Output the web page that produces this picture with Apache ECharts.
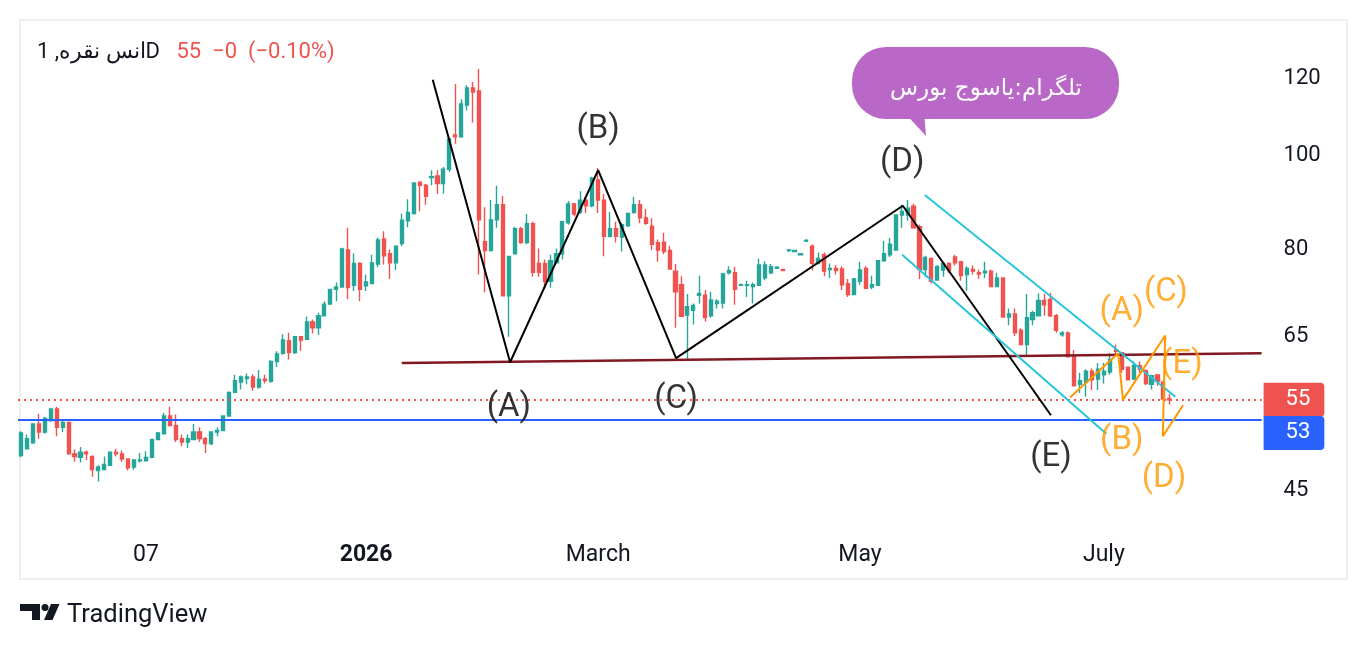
<!DOCTYPE html>
<html lang="en">
<head>
    <meta charset="utf-8">
    <script src="https://cdn.jsdelivr.net/npm/echarts@6/dist/echarts.min.js"></script>
    <title></title>
    <style>html, body { margin: 0; background: #fff; }</style>
</head>
<body>
<div id="main" style="width: 1368px;height:650px;"></div>
<script type="text/javascript">
    // daily bars (log price scale)
    var open = [
        48.6, 49.4, 50.1, 52.4, 51.4, 52.8, 54.3, 52.0, 52.6, 48.8,
        48.4, 49.0, 48.5, 46.9, 47.0, 47.5, 49.0, 48.8, 48.2, 47.3,
        48.0, 48.0, 48.4, 50.5, 51.2, 53.4, 52.2, 50.6, 50.2, 50.5,
        51.4, 50.6, 50.0, 51.4, 51.6, 53.4, 56.5, 57.9, 58.4, 58.6,
        57.2, 58.3, 58.0, 60.8, 62.0, 63.9, 62.1, 64.5, 64.1, 66.8,
        65.9, 67.8, 69.7, 72.2, 72.6, 79.3, 72.9, 76.8, 72.8, 73.2,
        76.7, 81.4, 78.6, 76.9, 80.5, 85.0, 86.5, 93.2, 92.5, 94.2,
        94.6, 92.9, 96.1, 104.3, 103.8, 112.0, 116.6, 115.8, 80.9, 79.2,
        85.2, 88.3, 71.1, 78.6, 83.4, 80.7, 84.4, 76.8, 76.8, 73.6,
        76.9, 78.6, 84.6, 88.5, 86.8, 89.3, 88.1, 93.7, 89.3, 81.9,
        83.4, 81.8, 84.0, 86.7, 88.3, 85.6, 83.9, 80.7, 80.8, 79.2,
        75.4, 73.0, 67.9, 68.7, 71.2, 71.2, 67.8, 69.8, 69.9, 75.1,
        75.1, 72.9, 72.9, 72.7, 72.9, 74.2, 75.1, 75.9, 75.7, 79.2,
        79.0, 78.4, 81.0, 80.0, 76.8, 78.4, 75.7, 75.9, 75.8, 73.2,
        71.3, 73.6, 75.9, 72.6, 72.9, 77.3, 78.4, 79.3, 86.2, 86.2,
        88.0, 83.8, 75.7, 77.7, 73.8, 75.6, 76.8, 78.0, 77.1, 74.8,
        75.7, 75.1, 75.1, 75.4, 72.7, 74.2, 67.6, 68.1, 65.5, 63.3,
        67.2, 67.8, 70.3, 70.5, 67.8, 64.8, 65.1, 61.7, 57.6, 57.9,
        59.4, 58.3, 58.9, 59.3, 62.5, 62.1, 60.0, 58.3, 60.2, 59.5,
        57.6, 58.9, 57.9, 55.7
    ];
    var high = [
        51.5, 51.1, 52.4, 53.7, 53.3, 54.4, 54.6, 52.9, 52.7, 49.3,
        49.6, 49.2, 48.6, 47.5, 48.5, 49.1, 49.4, 49.2, 48.3, 48.2,
        48.9, 49.1, 50.6, 51.4, 53.8, 54.6, 53.6, 51.1, 51.1, 52.4,
        52.0, 50.8, 51.5, 52.0, 53.5, 56.6, 58.9, 58.8, 59.1, 59.0,
        59.6, 58.9, 61.0, 62.3, 64.9, 65.1, 64.6, 64.6, 67.7, 67.2,
        68.3, 70.2, 72.3, 73.4, 79.7, 83.6, 78.7, 77.0, 74.8, 78.4,
        81.7, 82.9, 79.4, 80.2, 86.5, 89.5, 93.2, 93.4, 92.8, 95.9,
        95.9, 96.6, 103.5, 117.7, 113.5, 117.4, 118.3, 122.0, 87.8, 89.3,
        92.4, 90.2, 78.2, 83.8, 83.8, 86.4, 84.8, 79.6, 77.5, 78.4,
        79.6, 85.0, 89.1, 88.7, 91.2, 90.2, 94.4, 96.4, 90.6, 86.8,
        84.8, 84.6, 86.7, 90.0, 89.3, 87.4, 85.5, 81.3, 82.6, 80.1,
        76.7, 74.5, 71.4, 69.8, 74.6, 72.1, 71.8, 70.5, 75.1, 76.3,
        76.2, 73.2, 73.7, 73.4, 77.7, 77.2, 76.7, 76.3, 75.8, 79.5,
        79.3, 78.7, 81.4, 80.4, 78.8, 78.8, 76.8, 76.5, 76.3, 74.0,
        74.2, 77.1, 76.3, 74.6, 77.4, 81.0, 81.6, 86.3, 88.3, 89.3,
        88.5, 84.2, 78.2, 77.9, 76.5, 77.1, 77.0, 78.4, 77.3, 76.3,
        76.4, 75.7, 77.1, 75.7, 75.1, 74.3, 69.0, 69.0, 65.8, 71.4,
        68.6, 71.5, 71.4, 71.6, 68.1, 65.4, 65.3, 62.5, 59.2, 59.7,
        59.8, 60.6, 60.6, 62.0, 63.3, 62.2, 60.1, 60.8, 60.8, 59.7,
        58.9, 58.9, 58.0, 56.3
    ];
    var low = [
        48.4, 49.3, 50.0, 50.6, 51.2, 52.7, 50.9, 51.4, 48.7, 47.9,
        47.8, 48.1, 46.2, 45.7, 46.9, 47.4, 48.5, 47.9, 46.9, 47.0,
        47.8, 48.0, 48.3, 50.4, 51.1, 52.1, 50.2, 49.7, 49.5, 50.4,
        50.2, 48.9, 49.8, 50.9, 51.5, 53.3, 56.4, 56.9, 57.6, 56.7,
        57.0, 57.7, 57.8, 60.0, 61.8, 61.1, 61.9, 62.4, 64.0, 65.0,
        64.8, 67.7, 69.6, 70.2, 72.5, 70.5, 71.9, 70.2, 71.9, 73.1,
        76.1, 76.6, 74.0, 75.6, 80.0, 83.7, 86.3, 86.9, 88.3, 92.5,
        90.6, 90.7, 95.5, 102.1, 103.6, 110.5, 107.4, 74.8, 71.7, 79.0,
        83.6, 71.0, 64.5, 78.5, 80.5, 80.4, 74.4, 74.4, 72.3, 72.5,
        76.8, 77.5, 84.2, 85.9, 86.4, 86.6, 87.8, 86.6, 78.1, 81.7,
        80.7, 79.0, 83.8, 86.5, 84.5, 84.2, 79.3, 77.1, 78.5, 75.7,
        65.9, 67.6, 61.0, 66.4, 69.8, 66.9, 67.5, 69.0, 69.0, 74.8,
        69.6, 72.8, 70.9, 69.8, 72.9, 73.8, 74.9, 75.8, 75.4, 78.9,
        78.9, 78.3, 80.8, 75.5, 76.6, 74.5, 74.2, 74.8, 72.1, 70.9,
        71.2, 73.0, 72.3, 72.2, 72.8, 77.1, 78.0, 79.2, 83.6, 85.0,
        83.4, 74.0, 74.4, 73.2, 73.7, 74.4, 75.1, 76.4, 73.7, 71.9,
        74.8, 74.0, 74.2, 72.6, 72.6, 67.6, 66.3, 64.6, 63.2, 61.7,
        66.3, 67.7, 67.8, 67.6, 65.1, 64.5, 61.4, 57.4, 56.4, 55.9,
        56.8, 56.8, 57.7, 58.9, 61.7, 59.2, 58.1, 58.2, 59.2, 57.5,
        56.9, 57.4, 55.5, 54.9
    ];
    var close = [
        51.3, 50.6, 52.4, 51.4, 53.1, 54.3, 52.0, 52.6, 48.8, 48.5,
        49.0, 48.8, 47.0, 47.3, 47.6, 49.0, 48.8, 48.2, 47.2, 48.1,
        48.1, 48.4, 50.5, 51.3, 53.4, 52.2, 50.5, 50.2, 50.6, 51.4,
        50.6, 50.0, 51.4, 51.6, 53.4, 56.5, 58.1, 58.6, 58.6, 57.2,
        58.3, 58.1, 60.8, 61.9, 64.0, 62.1, 64.5, 64.0, 66.8, 65.9,
        67.8, 69.7, 72.2, 72.6, 79.5, 72.5, 76.8, 72.2, 73.5, 76.9,
        81.2, 78.2, 76.9, 80.0, 85.1, 86.7, 93.0, 92.5, 90.1, 94.4,
        92.9, 96.1, 103.3, 103.8, 112.3, 116.6, 115.5, 85.2, 79.2, 85.2,
        88.3, 71.1, 78.1, 83.4, 80.7, 84.4, 75.2, 75.2, 73.6, 77.3,
        78.6, 84.8, 88.5, 86.4, 89.3, 88.1, 94.1, 89.3, 81.9, 83.4,
        81.9, 84.2, 86.5, 88.3, 85.6, 84.5, 80.4, 79.3, 79.0, 75.8,
        71.8, 67.7, 69.3, 69.5, 71.5, 67.5, 70.4, 70.2, 74.9, 75.5,
        72.2, 73.0, 73.0, 73.0, 76.5, 76.5, 76.2, 76.1, 75.5, 79.3,
        79.2, 78.6, 81.1, 76.8, 77.7, 75.4, 75.9, 75.5, 73.0, 71.3,
        74.0, 75.6, 72.4, 73.0, 77.3, 78.6, 80.4, 86.2, 86.9, 87.6,
        83.6, 75.7, 77.9, 73.6, 76.2, 76.8, 75.5, 76.9, 74.6, 75.9,
        75.4, 74.9, 75.4, 72.7, 74.2, 67.6, 68.1, 65.1, 63.3, 67.5,
        68.3, 70.3, 69.6, 67.8, 65.5, 65.1, 61.5, 57.4, 58.1, 59.4,
        58.2, 59.7, 59.4, 61.1, 62.3, 59.7, 58.2, 60.2, 59.7, 57.7,
        58.8, 58.0, 55.6, 55.5
    ];

    // trading calendar (weekdays, US holidays skipped), incl. empty space on the right
    var slotCount = 209;
    var holidays = ['2025-11-27', '2025-12-25', '2026-01-01', '2026-01-19',
        '2026-02-16', '2026-05-25', '2026-06-19', '2026-07-03'];
    var dates = [];
    for (var t = Date.UTC(2025, 9, 9); dates.length < slotCount; t += 864e5) {
        var d = new Date(t), s = d.toISOString().slice(0, 10);
        if (d.getUTCDay() % 6 !== 0 && holidays.indexOf(s) < 0) dates.push(s);
    }
    var xTicks = {
        '2025-11-07': '07',
        '2026-01-02': '{b|2026}',
        '2026-03-02': 'March',
        '2026-05-01': 'May',
        '2026-07-01': 'July'
    };
    var priceTicks = [45, 65, 80, 100, 120];
    var lastPrice = 55.5, lastPriceText = '55';
    var hLevel = 52.9, hLevelText = '53';

    // drawings: [bar index, price]
    var zigzag = [[69.2, 118.9], [82.2, 60.7], [97.0, 95.9], [110.1, 61.3], [148.2, 88.1], [173.1, 53.5]];
    var neckline = [[64.0, 60.6], [208.5, 62.0]];
    var channelTop = [[151.9, 90.4], [194.0, 55.9]];
    var channelBottom = [[148.1, 78.4], [182.4, 51.2]];
    var triangle = [[176.3, 55.8], [184.4, 62.0], [185.2, 55.5], [192.3, 64.7], [191.9, 50.9], [195.3, 54.8]];
    var blackLabels = [[97.0, 105.5, '(B)'], [148.1, 97.5, '(D)'], [82.0, 54.5, '(A)'], [110.1, 55.5, '(C)'], [173.1, 48.3, '(E)']];
    var orangeLabels = [[185.0, 68.4, '(A)'], [192.4, 71.7, '(C)'], [195.1, 60.3, '(E)'], [185.0, 50.4, '(B)'], [192.1, 46.0, '(D)']];

    var symbolName = 'انس نقره, 1D';
    var legendVals = ['55', '−0', '(−0.10%)'];
    var bubbleText = 'تلگرام:یاسوج بورس';

    var UP = '#26a69a', DOWN = '#ef5350', INK = '#131722';
    var candles = open.map(function (o, i) { return [o, close[i], low[i], high[i]]; });

    function drawing(data, color, width) {
        return {
            type: 'line', xAxisIndex: 1, yAxisIndex: 0, data: data, silent: true,
            showSymbol: false, symbol: 'none', z: 5,
            lineStyle: {color: color, width: width}
        };
    }
    function labels(list, color) {
        return {
            type: 'scatter', xAxisIndex: 1, yAxisIndex: 0, silent: true, symbolSize: 1, z: 6,
            itemStyle: {color: 'transparent'},
            data: list.map(function (p) {
                return {value: [p[0], p[1]], name: p[2]};
            }),
            label: {
                show: true, position: 'inside', formatter: '{b}',
                color: color, fontSize: 33, fontFamily: 'Roboto'
            }
        };
    }
    var axisFont = {color: INK, fontSize: 22, fontFamily: 'Roboto'};

    var myChart = echarts.init(document.getElementById('main'));
    var option = {
        animation: false,
        backgroundColor: '#fff',
        title: {
            left: 37, top: 41, padding: 0,
            text: '{n|' + symbolName + '}   {r|' + legendVals.join('}  {r|') + '}',
            textStyle: {
                fontSize: 22, fontFamily: 'Roboto', fontWeight: 'normal', color: INK,
                rich: {
                    n: {color: INK, fontSize: 22, fontFamily: 'Roboto'},
                    r: {color: DOWN, fontSize: 22, fontFamily: 'Roboto'}
                }
            }
        },
        grid: {left: 18, right: 106.4, top: 22, bottom: 120, outerBoundsMode: 'none'},
        xAxis: [
            {
                type: 'category', data: dates, boundaryGap: true,
                axisLine: {show: false}, axisTick: {show: false}, splitLine: {show: false},
                axisLabel: {
                    interval: function (i, v) { return v in xTicks; },
                    formatter: function (v) { return xTicks[v] || ''; },
                    color: INK, fontSize: 23, fontFamily: 'Roboto', margin: 14,
                    rich: {b: {color: INK, fontSize: 23, fontFamily: 'Roboto', fontWeight: 'bold'}}
                }
            },
            {type: 'value', min: -0.5, max: slotCount - 0.5, show: false}
        ],
        yAxis: {
            type: 'log', min: 40.71, max: 136.46, position: 'right',
            axisLine: {show: false}, axisTick: {show: false},
            axisLabel: {show: false}, splitLine: {show: false}
        },
        series: [
            {
                type: 'candlestick', data: candles, barWidth: 3.6,
                itemStyle: {color: UP, color0: DOWN, borderColor: UP, borderColor0: DOWN, borderWidth: 1.4},
                markLine: {
                    silent: true, symbol: ['none', 'none'], animation: false,
                    data: priceTicks.map(function (v) {
                        return {
                            yAxis: v, lineStyle: {color: 'rgba(0,0,0,0)', width: 1},
                            label: Object.assign({
                                show: true, position: 'end', distance: 22, offset: [0, 3], formatter: String(v)
                            }, axisFont)
                        };
                    }).concat([
                        {
                            yAxis: lastPrice,
                            lineStyle: {color: DOWN, type: [2, 4], width: 2},
                            label: {
                                position: 'end', distance: 2, formatter: lastPriceText,
                                color: '#fff', fontSize: 22, fontFamily: 'Roboto', lineHeight: 22,
                                backgroundColor: DOWN, padding: [6, 14, 6, 22], borderRadius: [0, 4, 4, 0]
                            }
                        },
                        {
                            yAxis: hLevel,
                            lineStyle: {color: '#2962ff', type: 'solid', width: 2},
                            label: {
                                position: 'end', distance: 2, formatter: hLevelText, offset: [0, 13],
                                color: '#fff', fontSize: 22, fontFamily: 'Roboto', lineHeight: 22,
                                backgroundColor: '#2962ff', padding: [6, 14, 6, 22], borderRadius: [0, 4, 4, 0]
                            }
                        }
                    ])
                }
            },
            drawing(neckline, '#801922', 2.5),
            drawing(zigzag, '#000000', 2),
            drawing(channelTop, '#26c6da', 2),
            drawing(channelBottom, '#26c6da', 2),
            drawing(triangle, '#ff9800', 2),
            labels(blackLabels, '#000000'),
            labels(orangeLabels, '#ff9800')
        ],
        graphic: [
            {
                type: 'rect', silent: true, z: -1,
                shape: {x: 20, y: 20, width: 1327, height: 559},
                style: {fill: 'none', stroke: '#eceef2', lineWidth: 2}
            },
            {
                type: 'polygon', silent: true,
                shape: {points: [[902, 110], [924, 110], [926, 136]]},
                style: {fill: '#ba68c8'}
            },
            {
                type: 'rect', silent: true,
                shape: {x: 852, y: 47, width: 267, height: 72, r: 34},
                style: {fill: '#ba68c8'}
            },
            {
                type: 'text', silent: true, x: 986, y: 89,
                style: {
                    text: bubbleText, fill: '#fff', font: '23px "DejaVu Sans", sans-serif',
                    align: 'center', verticalAlign: 'middle', textAlign: 'center', textVerticalAlign: 'middle'
                }
            },
            // TradingView logo
            {
                type: 'polygon', silent: true,
                shape: {points: [[20, 604], [40, 604], [40, 620], [32, 620], [32, 611], [20, 611]]},
                style: {fill: INK}
            },
            {type: 'circle', silent: true, shape: {cx: 45, cy: 607.5, r: 3.5}, style: {fill: INK}},
            {
                type: 'polygon', silent: true,
                shape: {points: [[51, 604], [59.5, 604], [52.5, 620], [44, 620]]},
                style: {fill: INK}
            },
            {
                type: 'text', silent: true, x: 67, y: 616,
                style: {
                    text: 'TradingView', fill: INK, font: '25.5px Roboto',
                    align: 'left', verticalAlign: 'middle', textAlign: 'left', textVerticalAlign: 'middle'
                }
            }
        ]
    };
    myChart.setOption(option);
</script>
</body>
</html>
